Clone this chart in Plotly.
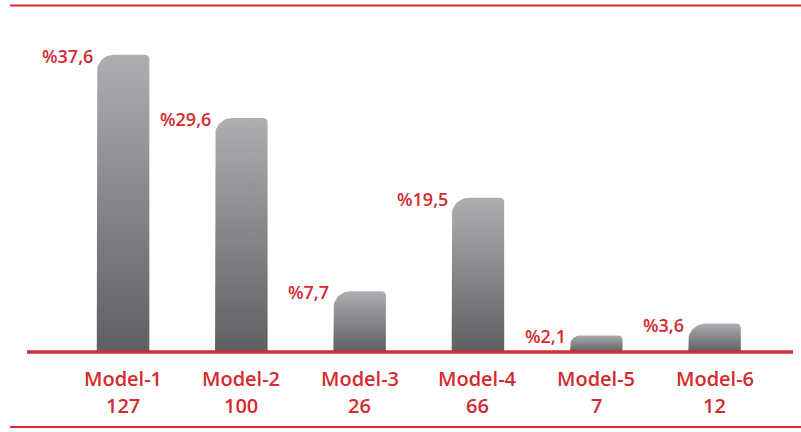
import numpy as np
import plotly.graph_objects as go

# ---- data ----
categories = ["Model-1", "Model-2", "Model-3", "Model-4", "Model-5", "Model-6"]
counts = [127, 100, 26, 66, 7, 12]
percents = [37.6, 29.6, 7.7, 19.5, 2.1, 3.6]
percent_labels = ["%37,6", "%29,6", "%7,7", "%19,5", "%2,1", "%3,6"]

# ---- styling ----
W, H = 801, 432
RED = "#d52a31"
FONT = "Open Sans"
x_range = [-1.04, 5.731]
y_range = [-10.11, 44.52]
px_x = W / (x_range[1] - x_range[0])
px_y = H / (y_range[1] - y_range[0])
half_w = 0.222

fig = go.Figure()

def corner(cx, cy, rx, ry, a0, a1, n=14):
    t = np.linspace(a0, a1, n)
    return list(cx + rx * np.cos(t)), list(cy + ry * np.sin(t))

for i, v in enumerate(percents):
    xl, xr = i - half_w, i + half_w
    hpx = v * px_y
    rl = min(17.0, 0.6 * hpx)
    rr = min(4.0, 0.3 * hpx)
    rlx, rly = rl / px_x, rl / px_y
    rrx, rry = rr / px_x, rr / px_y
    xs = [xl, xl]
    ys = [0, v - rly]
    ax, ay = corner(xl + rlx, v - rly, rlx, rly, np.pi, np.pi / 2)
    xs += ax; ys += ay
    bx, by = corner(xr - rrx, v - rry, rrx, rry, np.pi / 2, 0)
    xs += bx; ys += by
    xs += [xr, xl]
    ys += [0, 0]
    fig.add_trace(go.Scatter(
        x=xs, y=ys, mode="lines", fill="toself",
        line=dict(width=0, color="rgba(0,0,0,0)"),
        fillgradient=dict(type="vertical",
                          colorscale=[[0, "#5e5f62"], [1, "#adaeb2"]]),
        hoverinfo="skip", showlegend=False,
    ))
    fig.add_annotation(
        x=xl, y=v, xref="x", yref="y", text=percent_labels[i],
        showarrow=False, xanchor="right", yanchor="middle",
        xshift=-2, yshift=-1,
        font=dict(family=FONT, size=18, color=RED, weight=600),
    )
    fig.add_annotation(
        x=i, y=1 - 378 / H, xref="x", yref="paper", text=categories[i],
        showarrow=False, xanchor="center", yanchor="middle",
        font=dict(family=FONT, size=20, color=RED, weight=600),
    )
    fig.add_annotation(
        x=i, y=1 - 405 / H, xref="x", yref="paper", text=str(counts[i]),
        showarrow=False, xanchor="center", yanchor="middle",
        font=dict(family=FONT, size=20, color=RED, weight=600),
    )

# decorative red rules
fig.add_shape(type="line", xref="paper", yref="paper",
              x0=10 / W, x1=1, y0=1 - 5.5 / H, y1=1 - 5.5 / H,
              line=dict(color=RED, width=2))
fig.add_shape(type="line", xref="paper", yref="paper",
              x0=10 / W, x1=1, y0=1 - 427 / H, y1=1 - 427 / H,
              line=dict(color=RED, width=2))
fig.add_shape(type="line", xref="paper", yref="y",
              x0=27 / W, x1=793 / W, y0=0, y1=0,
              line=dict(color=RED, width=3.5))

fig.update_layout(
    width=W, height=H,
    margin=dict(l=0, r=0, t=0, b=0),
    paper_bgcolor="white", plot_bgcolor="white",
    xaxis=dict(range=x_range, visible=False, fixedrange=True),
    yaxis=dict(range=y_range, visible=False, fixedrange=True),
    showlegend=False,
)

fig.write_html(
    "out.html",
    config={"displayModeBar": False},
    post_script="document.body.style.margin='0';document.body.style.overflow='hidden';",
)
